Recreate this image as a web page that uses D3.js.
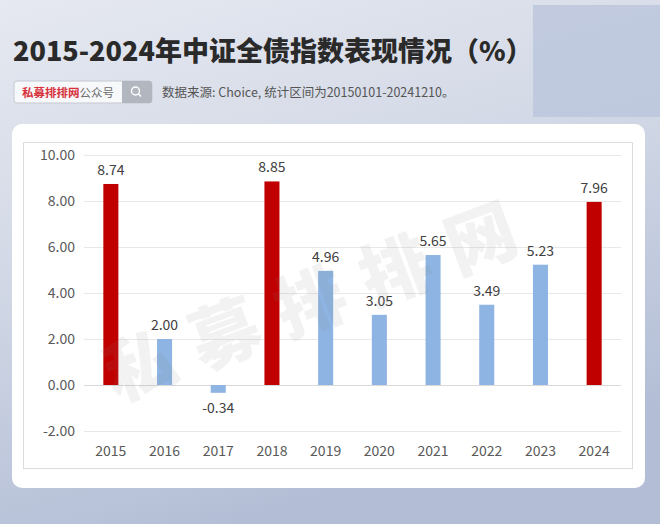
<!DOCTYPE html>
<html>
<head>
<meta charset="utf-8">
<script src="https://cdn.jsdelivr.net/npm/d3@7"></script>
<style>
  html, body { margin: 0; padding: 0; overflow: hidden; }
  body { width: 660px; height: 524px; }
</style>
</head>
<body>
<div id="main-container"></div>
<script>
// Data
const YEARS = ['2015', '2016', '2017', '2018', '2019', '2020', '2021', '2022', '2023', '2024'];
const RETURNS = [8.74, 2.00, -0.34, 8.85, 4.96, 3.05, 5.65, 3.49, 5.23, 7.96];
const HIGHLIGHT = ['2015', '2018', '2024'];
const Y_TICKS = [-2, 0, 2, 4, 6, 8, 10];

const TITLE = '2015-2024年中证全债指数表现情况（%）';
const SOURCE = '数据来源: Choice, 统计区间为20150101-20241210。';

const W = 660, H = 524;
const FONT = '"Noto Sans CJK SC", "Noto Sans", sans-serif';
// hyphen instead of unicode minus, like the original
const fmt = v => d3.format('.2f')(v).replace('\u2212', '-');

const SVG = d3.select('#main-container').append('svg')
    .attr('width', W)
    .attr('height', H)
    .style('display', 'block');

// Background
const DEFS = SVG.append('defs');
const BG = DEFS.append('linearGradient')
    .attr('id', 'bg')
    .attr('x1', 0).attr('y1', 0).attr('x2', 0.35).attr('y2', 1);
BG.append('stop').attr('offset', '0%').attr('stop-color', '#e6e9f1');
BG.append('stop').attr('offset', '45%').attr('stop-color', '#d3d9e6');
BG.append('stop').attr('offset', '100%').attr('stop-color', '#b3bed6');

SVG.append('rect').attr('width', W).attr('height', H).attr('fill', 'url(#bg)');
SVG.append('rect')
    .attr('x', 533).attr('y', 5).attr('width', 127).attr('height', 112)
    .attr('fill', '#bcc7dc').attr('opacity', 0.85);

// Title
SVG.append('text')
    .attr('x', 13).attr('y', 61)
    .style('font-family', FONT)
    .style('font-size', '27px')
    .style('font-weight', 900)
    .attr('fill', '#2a2a2a')
    .text(TITLE);

// Search box
const SEARCH = SVG.append('g').attr('transform', 'translate(14, 81)');
SEARCH.append('rect')
    .attr('width', 138).attr('height', 22).attr('rx', 3)
    .attr('fill', '#f7f8fa').attr('stroke', '#c4c9d2');
SEARCH.append('path')
    .attr('d', 'M108,0 H135 a3,3 0 0 1 3,3 V19 a3,3 0 0 1 -3,3 H108 Z')
    .attr('fill', '#b1b6bf');
SEARCH.append('circle')
    .attr('cx', 121.5).attr('cy', 10).attr('r', 4)
    .attr('fill', 'none').attr('stroke', '#fff').attr('stroke-width', 1.4);
SEARCH.append('line')
    .attr('x1', 124.5).attr('y1', 13).attr('x2', 127).attr('y2', 15.5)
    .attr('stroke', '#fff').attr('stroke-width', 1.4);
const SEARCH_TEXT = SEARCH.append('text')
    .attr('x', 8).attr('y', 15.5)
    .style('font-family', FONT)
    .style('font-size', '11.5px');
SEARCH_TEXT.append('tspan').attr('fill', '#d7333d').style('font-weight', 700).text('私募排排网');
SEARCH_TEXT.append('tspan').attr('fill', '#6b6b6b').text('公众号');

SVG.append('text')
    .attr('x', 162).attr('y', 97)
    .style('font-family', FONT)
    .style('font-size', '12.5px')
    .attr('fill', '#555')
    .text(SOURCE);

// Card
SVG.append('rect')
    .attr('x', 12).attr('y', 124).attr('width', 633).attr('height', 364).attr('rx', 10)
    .attr('fill', '#ffffff');
SVG.append('rect')
    .attr('x', 23.5).attr('y', 142.5).attr('width', 609).attr('height', 326)
    .attr('fill', 'none').attr('stroke', '#dcdcdc');

// Scales
const X = d3.scaleBand().domain(YEARS).range([84, 621]).paddingInner(0.72).paddingOuter(0.36);
const Y = d3.scaleLinear().domain([-2, 10]).range([431, 155]);

const CHART = SVG.append('g');

// Gridlines
CHART.append('g')
    .selectAll('line')
    .data(Y_TICKS)
    .join('line')
    .attr('x1', 84).attr('x2', 621)
    .attr('y1', d => Math.round(Y(d)) + 0.5)
    .attr('y2', d => Math.round(Y(d)) + 0.5)
    .attr('stroke', d => d === 0 ? '#d9d9d9' : '#e8e8e8');

// Y labels
CHART.append('g')
    .selectAll('text')
    .data(Y_TICKS)
    .join('text')
    .attr('x', 75)
    .attr('y', d => Y(d) + 5)
    .attr('text-anchor', 'end')
    .style('font-family', FONT)
    .style('font-size', '14px')
    .attr('fill', '#595959')
    .text(fmt);

// X labels
CHART.append('g')
    .selectAll('text')
    .data(YEARS)
    .join('text')
    .attr('x', d => X(d) + X.bandwidth() / 2)
    .attr('y', 456)
    .attr('text-anchor', 'middle')
    .style('font-family', FONT)
    .style('font-size', '14px')
    .attr('fill', '#595959')
    .text(d => d);

// Bars
const DATA = YEARS.map((y, i) => ({ year: y, value: RETURNS[i] }));

CHART.append('g')
    .selectAll('rect')
    .data(DATA)
    .join('rect')
    .attr('x', d => X(d.year))
    .attr('width', X.bandwidth())
    .attr('y', d => Y(Math.max(0, d.value)))
    .attr('height', d => Math.abs(Y(d.value) - Y(0)))
    .attr('fill', d => HIGHLIGHT.includes(d.year) ? '#c00000' : '#8db4e2');

// Value labels
CHART.append('g')
    .selectAll('text')
    .data(DATA)
    .join('text')
    .attr('x', d => X(d.year) + X.bandwidth() / 2)
    .attr('y', d => d.value >= 0 ? Y(d.value) - 9 : Y(d.value) + 20)
    .attr('text-anchor', 'middle')
    .style('font-family', FONT)
    .style('font-size', '14px')
    .attr('fill', '#404040')
    .text(d => fmt(d.value));

// Watermark
SVG.append('text')
    .attr('transform', 'translate(116, 402) rotate(-20.5)')
    .style('font-family', FONT)
    .style('font-size', '70px')
    .style('font-weight', 900)
    .style('letter-spacing', '21px')
    .attr('fill', '#8a8a8a')
    .attr('opacity', 0.1)
    .text('私募排排网');
</script>
</body>
</html>
